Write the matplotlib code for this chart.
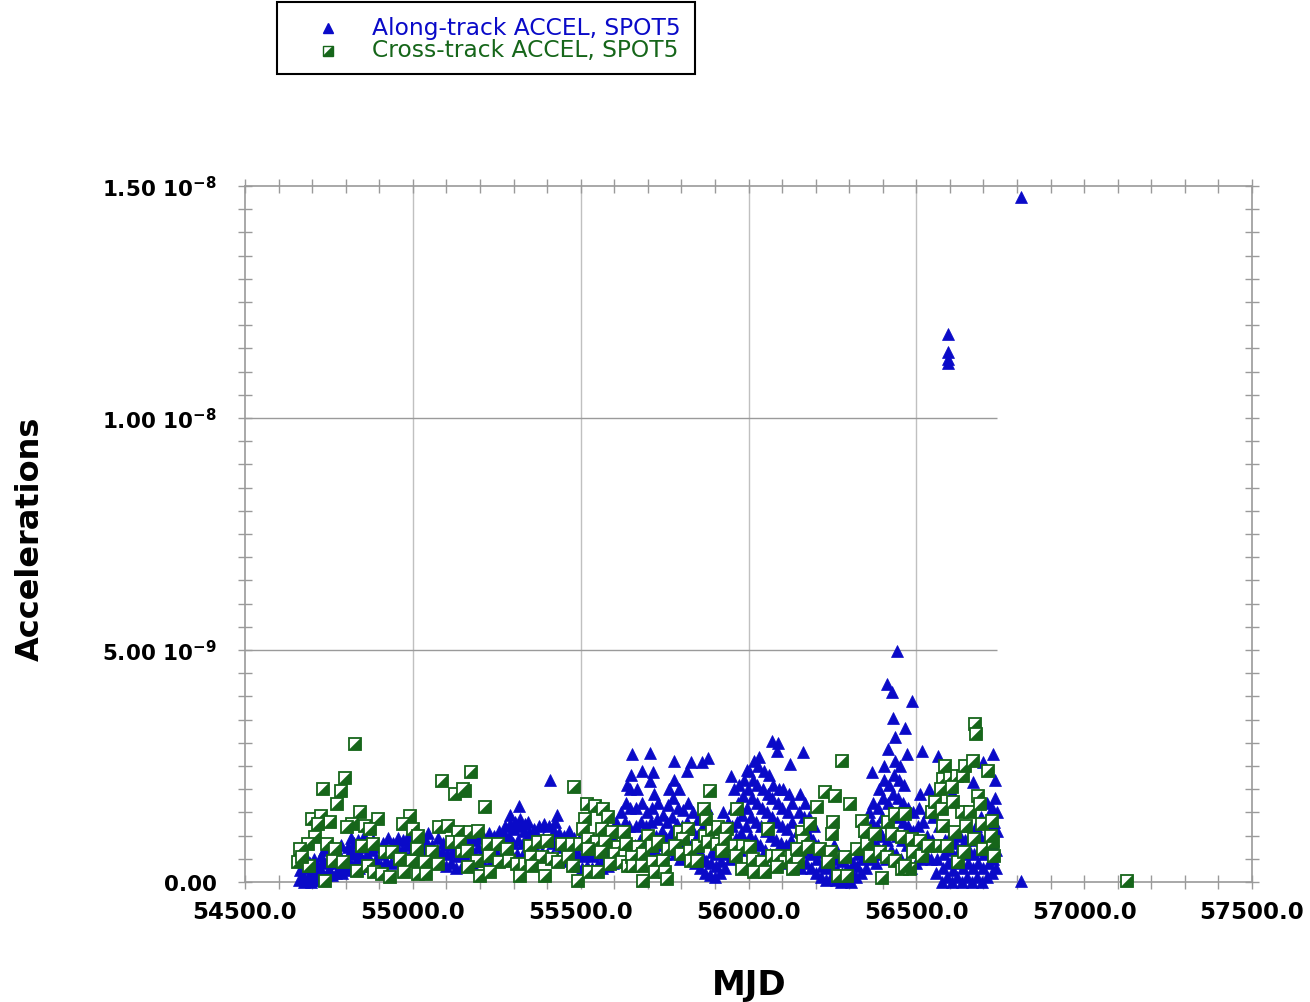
import numpy as np
import matplotlib
matplotlib.use("Agg")
import matplotlib.pyplot as plt
from matplotlib.path import Path
from matplotlib.patches import Rectangle
from matplotlib.lines import Line2D

# ---------------- data (accelerations in units of 1e-9) ----------------
blue_mjd = [
    54660, 54663, 54666, 54670, 54672, 54675, 54680, 54683, 54686, 54690, 54693, 54696,
    54700, 54703, 54706, 54710, 54713, 54720, 54723, 54726, 54730, 54733, 54736,
    54740, 54743, 54746, 54750, 54753, 54756, 54760, 54763, 54766, 54770, 54773,
    54780, 54783, 54786, 54790, 54793, 54800, 54803, 54806, 54810, 54813, 54816,
    54820, 54823, 54826, 54830, 54833, 54836, 54840, 54843, 54846, 54850, 54853, 54856,
    54860, 54863, 54866, 54875, 54878, 54881, 54890, 54893, 54905, 54908, 54911,
    54920, 54923, 54926, 54935, 54938, 54941, 54950, 54953, 54956, 54965, 54968, 54971,
    54980, 54983, 54986, 54995, 54998, 55001, 55010, 55013, 55016, 55025, 55028, 55031,
    55040, 55043, 55046, 55055, 55058, 55070, 55073, 55076, 55085, 55088, 55091,
    55100, 55103, 55106, 55115, 55118, 55121, 55130, 55133, 55136, 55145, 55148, 55151,
    55160, 55163, 55166, 55175, 55178, 55181, 55190, 55193, 55196, 55205, 55208, 55211,
    55220, 55223, 55226, 55235, 55238, 55241, 55250, 55253, 55256,
    55265, 55268, 55271, 55274, 55280, 55283, 55286, 55289, 55295, 55298, 55301, 55304,
    55310, 55313, 55316, 55319, 55325, 55328, 55331, 55334, 55340, 55343, 55346,
    55355, 55358, 55361, 55370, 55373, 55376, 55385, 55388, 55391, 55400, 55403, 55406,
    55415, 55418, 55421, 55424, 55430, 55433, 55436, 55445, 55448, 55451, 55460, 55463, 55466,
    55475, 55478, 55481, 55490, 55493, 55496, 55505, 55508, 55511, 55520, 55523, 55526,
    55535, 55538, 55541, 55550, 55553, 55556, 55565, 55568, 55571,
    55580, 55583, 55586, 55589, 55595, 55598, 55601, 55604, 55610, 55613, 55616, 55619,
    55625, 55628, 55631, 55634, 55637, 55640, 55642, 55644, 55646, 55648, 55650,
    55660, 55662, 55664, 55666, 55668, 55675, 55678, 55681, 55684, 55690, 55693, 55696, 55699,
    55705, 55708, 55711, 55714, 55717, 55720, 55723, 55726, 55729, 55735, 55738, 55741, 55744,
    55750, 55753, 55756, 55759, 55762, 55765, 55768, 55771, 55774, 55777,
    55780, 55783, 55786, 55789, 55792, 55795, 55798, 55801, 55804, 55812, 55815, 55818, 55821,
    55825, 55828, 55831, 55834, 55840, 55843, 55846, 55849, 55855, 55858, 55861, 55864, 55867,
    55870, 55873, 55876, 55885, 55888, 55891, 55900, 55903, 55906, 55909, 55915, 55918, 55921, 55924,
    55930, 55933, 55936, 55939, 55945, 55948, 55951, 55954, 55957, 55960, 55963, 55966, 55969, 55972,
    55975, 55978, 55981, 55984, 55987, 55990, 55993, 55996, 55999, 56002,
    56005, 56008, 56011, 56014, 56017, 56020, 56022, 56024, 56026, 56028, 56030,
    56035, 56038, 56041, 56044, 56047, 56050, 56053, 56056, 56059, 56062,
    56065, 56067, 56069, 56071, 56073, 56080, 56083, 56086, 56089, 56092,
    56095, 56097, 56099, 56101, 56103, 56110, 56113, 56116, 56119, 56122,
    56125, 56127, 56129, 56131, 56140, 56143, 56146, 56149, 56152,
    56155, 56158, 56161, 56164, 56167, 56170, 56173, 56176, 56179, 56185, 56188, 56191, 56194,
    56200, 56203, 56206, 56215, 56218, 56221, 56230, 56233, 56236, 56245, 56248, 56251, 56254,
    56260, 56263, 56266, 56275, 56278, 56281, 56290, 56293, 56296, 56305, 56308, 56311,
    56320, 56323, 56326, 56335, 56338, 56341, 56344, 56350, 56353, 56356, 56359,
    56365, 56367, 56369, 56371, 56380, 56382, 56384, 56386, 56388,
    56395, 56397, 56399, 56401, 56403, 56405, 56410, 56412, 56414, 56416, 56418,
    56425, 56427, 56429, 56431, 56433, 56435, 56440, 56442, 56444, 56446, 56448, 56450,
    56455, 56457, 56459, 56461, 56463, 56470, 56472, 56474, 56476, 56485, 56487, 56489, 56491,
    56500, 56503, 56506, 56509, 56512, 56515, 56517, 56519, 56530, 56533, 56536, 56539,
    56545, 56548, 56551, 56554, 56560, 56563, 56566, 56569, 56575, 56578, 56581, 56584,
    56590, 56593, 56596, 56599, 56605, 56608, 56611, 56614, 56620, 56623, 56626, 56629,
    56635, 56638, 56641, 56644, 56647, 56650, 56653, 56656, 56659,
    56665, 56668, 56671, 56674, 56677, 56680, 56683, 56686, 56689, 56692,
    56695, 56698, 56701, 56704, 56707, 56710, 56712, 56715, 56718, 56721, 56724,
    56725, 56727, 56729, 56731, 56733, 56735, 56737, 56738, 56739, 56740,
]
blue_acc = [
    0.05, 0.25, 0.45, 0.10, 0.35, 0.00, 0.05, 0.30, 0.50, 0.15, 0.40, 0.00,
    0.05, 0.25, 0.50, 0.10, 0.35, 0.05, 0.30, 0.55, 0.20, 0.45, 0.70,
    0.15, 0.40, 0.80, 0.25, 0.50, 0.75, 0.15, 0.40, 0.65, 0.20, 0.45,
    0.30, 0.55, 0.80, 0.20, 0.35, 0.25, 0.50, 0.75, 0.40, 0.65, 0.95,
    0.35, 0.60, 0.85, 0.45, 0.70, 0.90, 0.30, 0.55, 0.80, 0.50, 0.75, 1.00,
    0.35, 0.60, 0.85, 0.40, 0.70, 0.90, 0.50, 0.75, 0.35, 0.60, 0.85,
    0.45, 0.70, 0.95, 0.40, 0.65, 0.85, 0.50, 0.75, 0.95, 0.45, 0.70, 0.90,
    0.55, 0.80, 1.00, 0.50, 0.70, 0.90, 0.55, 0.80, 1.05, 0.50, 0.75, 0.95,
    0.60, 0.85, 1.05, 0.55, 0.80, 0.45, 0.70, 0.95, 0.40, 0.65, 0.85,
    0.35, 0.60, 0.80, 0.40, 0.65, 0.90, 0.30, 0.55, 0.80, 0.35, 0.60, 0.85,
    0.45, 0.70, 0.95, 0.40, 0.65, 0.90, 0.50, 0.75, 1.00, 0.45, 0.70, 0.95,
    0.55, 0.80, 1.05, 0.50, 0.75, 1.00, 0.60, 0.85, 1.10,
    0.55, 0.80, 1.05, 1.20, 0.50, 0.75, 1.00, 1.25, 0.55, 0.85, 1.15, 1.30,
    0.60, 0.90, 1.20, 1.35, 0.55, 0.85, 1.10, 1.25, 0.50, 0.80, 1.05,
    0.55, 0.85, 1.15, 0.60, 0.90, 1.20, 0.65, 0.95, 1.25, 0.60, 0.90, 1.20,
    0.55, 0.85, 1.10, 1.30, 0.50, 0.80, 1.05, 0.45, 0.75, 1.00, 0.50, 0.80, 1.10,
    0.40, 0.70, 0.95, 0.35, 0.60, 0.90, 0.30, 0.55, 0.80, 0.35, 0.60, 0.85,
    0.30, 0.55, 0.80, 0.35, 0.60, 0.90, 0.30, 0.50, 0.75,
    0.35, 0.60, 0.85, 1.10, 0.40, 0.70, 1.00, 1.30, 0.50, 0.80, 1.10, 1.50,
    0.60, 0.90, 1.30, 1.70, 2.10, 0.50, 0.85, 1.20, 1.60, 2.00, 2.30,
    0.40, 0.80, 1.20, 1.60, 2.00, 0.60, 0.90, 1.30, 1.70, 0.50, 0.85, 1.20, 1.50,
    0.60, 0.95, 1.30, 1.60, 1.90, 0.70, 1.00, 1.35, 1.70, 0.50, 0.80, 1.10, 1.45,
    0.60, 0.95, 1.30, 1.65, 2.00, 0.70, 1.05, 1.40, 1.80, 2.20,
    0.60, 0.90, 1.25, 1.60, 2.00, 0.50, 0.85, 1.20, 1.55, 0.60, 0.90, 1.30, 1.70,
    0.50, 0.80, 1.15, 1.50, 0.40, 0.70, 1.00, 1.35, 0.30, 0.60, 0.90, 1.20, 1.50,
    0.20, 0.45, 1.60, 0.15, 0.40, 0.65, 0.10, 0.35, 0.60, 1.20, 0.20, 0.45, 0.70, 1.50,
    0.30, 0.60, 0.90, 1.30, 0.50, 0.85, 1.20, 1.60, 2.00, 0.60, 0.95, 1.30, 1.70, 2.10,
    0.70, 1.05, 1.45, 1.85, 2.20, 0.80, 1.20, 1.60, 2.00, 2.40,
    1.00, 1.40, 1.80, 2.20, 2.60, 0.90, 1.30, 1.70, 2.10, 2.50, 2.70,
    0.80, 1.20, 1.60, 2.00, 2.40, 0.70, 1.10, 1.50, 1.90, 2.30,
    0.60, 1.00, 1.40, 1.80, 2.10, 0.50, 0.90, 1.30, 1.70, 2.00,
    0.50, 0.85, 1.20, 1.60, 2.00, 0.40, 0.80, 1.15, 1.50, 1.90,
    0.50, 0.90, 1.30, 1.70, 0.40, 0.75, 1.10, 1.50, 1.90,
    0.30, 0.65, 1.00, 1.40, 1.70, 0.40, 0.70, 1.05, 1.40, 0.30, 0.60, 0.90, 1.20,
    0.20, 0.50, 0.80, 0.10, 0.35, 0.65, 0.05, 0.30, 0.55, 0.10, 0.35, 0.60, 0.80,
    0.05, 0.25, 0.50, 0.00, 0.20, 0.45, 0.05, 0.30, 0.55, 0.00, 0.20, 0.40,
    0.10, 0.35, 0.60, 0.20, 0.50, 0.80, 1.10, 0.30, 0.70, 1.10, 1.50,
    0.50, 0.90, 1.30, 1.70, 0.40, 0.80, 1.20, 1.60, 2.00,
    0.60, 1.00, 1.40, 1.80, 2.20, 2.50, 0.50, 0.90, 1.30, 1.70, 2.10,
    0.70, 1.10, 1.50, 1.90, 2.30, 2.60, 0.60, 1.00, 1.40, 1.80, 2.20, 2.50,
    0.50, 0.90, 1.30, 1.70, 2.10, 0.40, 0.80, 1.20, 1.60, 0.30, 0.70, 1.10, 1.50,
    0.40, 0.80, 1.20, 1.60, 1.90, 0.50, 0.90, 1.30, 0.60, 1.00, 1.50, 2.00,
    0.50, 0.90, 1.40, 1.80, 0.20, 0.50, 0.80, 1.20, 0.00, 0.30, 0.60, 0.90,
    0.10, 0.40, 0.70, 1.00, 0.00, 0.25, 0.55, 0.85, 0.10, 0.40, 0.70, 1.00,
    0.00, 0.30, 0.60, 0.90, 1.20, 0.10, 0.40, 0.70, 1.00,
    0.00, 0.30, 0.60, 0.90, 1.20, 0.10, 0.40, 0.70, 1.00, 1.40,
    0.00, 0.30, 0.60, 0.90, 1.30, 1.70, 0.10, 0.40, 0.80, 1.20, 1.60,
    0.20, 0.50, 0.90, 1.30, 1.80, 2.20, 0.30, 0.70, 1.10, 1.50,
]

# isolated high along-track values
blue_peak_mjd = [
    55289, 55316, 55343, 55409, 55429,
    55653, 55683, 55706, 55706, 55715, 55778, 55817, 55829, 55861, 55879,
    55948, 55995, 56070, 56088, 56085, 56124, 56162,
    56368, 56413, 56427, 56442, 56487, 56430, 56466, 56436, 56415, 56472, 56517,
    56564, 56606, 56669, 56698, 56728,
    56594, 56594, 56594, 56594,
    56812, 56812,
]
blue_peak_acc = [
    1.45, 1.64, 1.30, 2.20, 1.45,
    2.76, 2.40, 2.78, 2.18, 2.37, 2.60, 2.39, 2.58, 2.58, 2.67,
    2.28, 2.41, 3.04, 3.00, 2.82, 2.54, 2.80,
    2.37, 4.27, 4.10, 4.98, 3.90, 3.53, 3.32, 3.12, 2.87, 2.76, 2.82,
    2.72, 1.94, 2.16, 2.59, 2.76,
    11.81, 11.42, 11.27, 11.19,
    14.76, 0.02,
]

green_mjd = [
    54828, 54798, 54732, 54786, 54774, 54843, 54700, 54726, 54753, 54717, 54819, 54804,
    54896, 54857, 54872, 54992, 54971, 55000, 55015, 54709, 54688, 54664, 54744, 54768,
    54849, 54881, 54917, 54938, 54962, 54997, 55012, 55057, 55036, 55075, 54658, 54690,
    54762, 54792, 54834, 54866, 54883, 54908, 54932, 54973, 55014, 55038, 54738, 54670,
    55087, 55126, 55155, 55077, 55105, 55135, 55117, 55146,
    55173, 55149, 55215, 55480, 55170, 55194, 55140, 55161, 55224, 55254, 55281, 55191,
    55227, 55257, 55286, 55310, 55334, 55164, 55200, 55230, 55319, 55394, 55349, 55373,
    55400, 55444, 55474, 55498, 55352, 55385, 55415, 55432, 55462, 55477, 55355, 55492,
    55513, 55519, 55543, 55566, 55581, 55507, 55521, 55564, 55593, 55626, 55549, 55572,
    55611, 55522, 55562, 55602, 55632, 55525, 55552, 55587, 55623, 55641,
    55630, 55634, 55701, 55671, 55653, 55686, 55712, 55730, 55655, 55683, 55715, 55745,
    55721, 55751, 55685, 55757, 55760, 55796, 55820, 55805, 55781, 55798, 55826, 55849,
    55828, 55846, 55870, 55891, 55909, 55936, 55879, 55906, 55930, 55960, 55984, 55872,
    55868, 55885, 55966, 55921, 55962, 55981, 56004, 56013, 56040, 56015, 56058, 56070,
    56088, 56109, 56130, 56153, 56147, 56132, 56085, 56049, 56159, 56162,
    56278, 56228, 56258, 56204, 56302, 56183, 56252, 56249, 56338, 56347, 56145, 56177,
    56213, 56247, 56287, 56323, 56353, 56362, 56392, 56413, 56436, 56457, 56481, 56466,
    56237, 56267, 56293, 56398, 56377, 56415, 56436, 56466, 56427, 56457, 56487, 56511,
    56490, 56517, 56547, 56556, 56576, 56579, 56600, 56621, 56639, 56574, 56606, 56585,
    56645, 56669, 56713, 56675, 56677, 56636, 56660, 56684, 56690, 56608, 56578, 56615,
    56647, 56696, 56725, 56564, 56591, 56535, 56624, 56673, 56698, 56727, 56730, 56643,
    56722, 57127,
]
green_acc = [
    2.97, 2.24, 2.00, 1.96, 1.68, 1.50, 1.36, 1.42, 1.29, 1.25, 1.25, 1.19,
    1.36, 1.21, 1.14, 1.42, 1.25, 1.14, 0.99, 0.97, 0.82, 0.71, 0.82, 0.71,
    0.78, 0.82, 0.65, 0.65, 0.50, 0.45, 0.71, 0.65, 0.43, 0.39, 0.43, 0.34,
    0.45, 0.43, 0.24, 0.34, 0.22, 0.17, 0.11, 0.22, 0.17, 0.17, 0.02, 0.54,
    2.18, 1.90, 1.96, 1.19, 1.21, 1.08, 0.86, 0.67,
    2.37, 2.00, 1.62, 2.05, 1.08, 1.10, 0.86, 0.67, 0.82, 0.82, 0.71, 0.45,
    0.56, 0.43, 0.45, 0.39, 0.39, 0.32, 0.13, 0.22, 0.13, 0.13, 0.78, 0.86,
    0.88, 0.82, 0.82, 0.82, 0.54, 0.54, 0.50, 0.43, 0.54, 0.34, 0.34, 0.02,
    1.36, 1.68, 1.64, 1.57, 1.40, 1.14, 0.93, 1.14, 1.08, 0.99, 0.86, 0.86,
    0.75, 0.71, 0.65, 0.60, 0.56, 0.22, 0.22, 0.39, 0.43, 0.34,
    1.08, 0.82, 0.99, 0.75, 0.54, 0.60, 0.78, 0.86, 0.34, 0.34, 0.43, 0.45,
    0.22, 0.22, 0.02, 0.06, 0.71, 1.08, 1.14, 0.93, 0.78, 0.60, 0.67, 0.78,
    0.45, 0.45, 0.99, 1.14, 1.19, 1.14, 0.86, 0.82, 0.93, 0.78, 0.78, 1.36,
    1.57, 1.96, 1.57, 0.67, 0.56, 0.28, 0.75, 0.50, 0.43, 0.22, 1.14, 0.56,
    0.56, 0.43, 0.56, 0.71, 0.43, 0.28, 0.32, 0.22, 1.08, 0.88,
    2.60, 1.94, 1.85, 1.62, 1.68, 1.25, 1.29, 1.03, 1.31, 1.10, 0.71, 0.75,
    0.71, 0.65, 0.54, 0.71, 0.82, 0.56, 0.65, 0.54, 0.45, 0.28, 0.28, 0.34,
    0.43, 0.13, 0.13, 0.09, 1.03, 1.29, 1.47, 1.47, 1.03, 0.97, 0.93, 0.88,
    0.65, 0.56, 1.51, 1.72, 1.57, 2.22, 2.26, 2.28, 2.28, 2.00, 2.05, 2.50,
    2.50, 2.60, 2.39, 3.40, 3.19, 1.51, 1.51, 1.85, 1.68, 1.72, 1.21, 1.08,
    1.21, 1.25, 1.31, 0.78, 0.78, 0.78, 0.43, 0.93, 0.71, 0.86, 0.56, 0.65,
    0.99, 0.02,
]

x_major = [54500, 55000, 55500, 56000, 56500, 57000, 57500]
x_labels = ["54500.0", "55000.0", "55500.0", "56000.0", "56500.0", "57000.0", "57500.0"]
y_major = [0.0, 5e-9, 1e-8, 1.5e-8]
y_labels = ["0.00", r"5.00 10$^{\mathbf{-9}}$", r"1.00 10$^{\mathbf{-8}}$", r"1.50 10$^{\mathbf{-8}}$"]
grid_x = [55000, 55500, 56000, 56500]
grid_y = [5e-9, 1e-8]
grid_x_end = 56740

assert len(blue_mjd) == len(blue_acc), (len(blue_mjd), len(blue_acc))
assert len(blue_peak_mjd) == len(blue_peak_acc)
assert len(green_mjd) == len(green_acc), (len(green_mjd), len(green_acc))

# ---------------- style ----------------
BLUE = "#0a0ac8"
GREEN = "#16661a"
AXC = "#9a9a9a"
plt.rcParams["mathtext.fontset"] = "dejavusans"

fig = plt.figure(figsize=(13.10, 10.03), dpi=100)
ax = fig.add_axes([245 / 1310, 1 - 883 / 1003, (1252 - 245) / 1310, (883 - 187) / 1003])
ax.set_xlim(54500, 57500)
ax.set_ylim(0, 1.5e-8)

# grid
ax.vlines(grid_x, 0, 1.5e-8, color="#c0c0c0", lw=1.0, zorder=0)
ax.hlines(grid_y, 54500, grid_x_end, color="#9a9a9a", lw=1.0, zorder=0)

# along-track
bx = list(blue_mjd) + list(blue_peak_mjd)
by = np.array(list(blue_acc) + list(blue_peak_acc)) * 1e-9
ax.plot(bx, by, ls="none", marker="^", ms=8, color=BLUE, mec=BLUE, mew=0.5,
        clip_on=False, zorder=3)

# cross-track: white square with green lower-right triangle
tri = Path([(-1, -1), (1, -1), (1, 1), (-1, -1)],
           [Path.MOVETO, Path.LINETO, Path.LINETO, Path.CLOSEPOLY])
for m, a in zip(green_mjd, green_acc):
    ax.plot([m], [a * 1e-9], ls="none", marker="s", ms=8.3, mfc="white", mec=GREEN,
            mew=1.3, clip_on=False, zorder=4)
    ax.plot([m], [a * 1e-9], ls="none", marker=tri, ms=8.3, mfc=GREEN, mec=GREEN,
            mew=0.3, clip_on=False, zorder=4)

# axes / ticks
for s in ax.spines.values():
    s.set_color(AXC)
    s.set_linewidth(1.2)
ax.set_xticks(x_major)
ax.set_xticklabels(x_labels)
ax.set_xticks(np.arange(54600, 57500, 100), minor=True)
ax.set_yticks(y_major)
ax.set_yticklabels(y_labels)
ax.set_yticks(np.arange(5e-10, 1.5e-8, 5e-10), minor=True)
ax.tick_params(which="both", direction="inout", length=10, width=1.0, color=AXC,
               top=True, right=True)
ax.tick_params(axis="x", which="major", pad=8, labelsize=16.5)
ax.tick_params(axis="y", which="major", pad=15, labelsize=15.5)
for lab in ax.get_xticklabels() + ax.get_yticklabels():
    lab.set_fontweight("bold")

fig.text(30 / 1310, 1 - 539 / 1003, "Accelerations", rotation=90, fontsize=23,
         fontweight="bold", ha="center", va="center")
fig.text(749 / 1310, 1 - 985 / 1003, "MJD", fontsize=24.5, fontweight="bold",
         ha="center", va="center")

# legend box
fig.patches.append(Rectangle((277 / 1310, 1 - 75 / 1003), (695 - 277) / 1310, 72 / 1003,
                             transform=fig.transFigure, fill=False, ec="black", lw=1.5))
fig.lines.append(Line2D([328 / 1310], [1 - 29 / 1003], transform=fig.transFigure,
                        ls="none", marker="^", ms=6.5, color=BLUE))
fig.lines.append(Line2D([328 / 1310], [1 - 52 / 1003], transform=fig.transFigure,
                        ls="none", marker="s", ms=6.5, mfc="white", mec=GREEN, mew=1))
fig.lines.append(Line2D([328 / 1310], [1 - 52 / 1003], transform=fig.transFigure,
                        ls="none", marker=tri, ms=6.5, mfc=GREEN, mec=GREEN, mew=0.3))
fig.text(372 / 1310, 1 - 28 / 1003, "Along-track ACCEL, SPOT5", color=BLUE,
         fontsize=16.8, ha="left", va="center")
fig.text(372 / 1310, 1 - 51 / 1003, "Cross-track ACCEL, SPOT5", color=GREEN,
         fontsize=16.8, ha="left", va="center")

fig.savefig("out.png", dpi=100)
